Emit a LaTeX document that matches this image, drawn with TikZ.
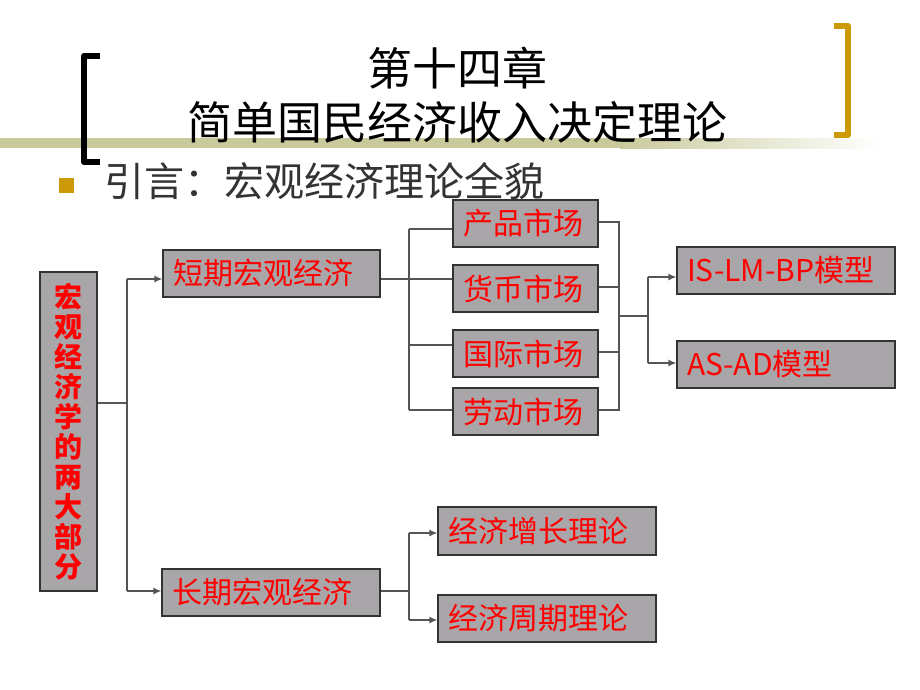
\documentclass[tikz,border=0pt]{standalone}
\usepackage{fontspec}
\setmainfont{Noto Sans CJK SC}
\usetikzlibrary{arrows.meta}

\definecolor{boxgray}{HTML}{A9A6A9}
\definecolor{gold}{HTML}{CC9A06}
\definecolor{olive}{HTML}{C9CA9C}
\definecolor{linegray}{HTML}{555555}
\definecolor{bullettext}{HTML}{333333}

\begin{document}
\begin{tikzpicture}[x=1pt,y=-1pt,
  box/.style={draw=black!80, line width=1.3pt, fill=boxgray, text=red,
    font=\fontsize{30}{34}\selectfont, inner xsep=10pt, inner ysep=0pt,
    align=left, minimum height=47pt},
  conn/.style={draw=linegray, line width=1.3pt},
  arr/.style={conn, -{Latex[length=8pt,width=7pt]}},
  titletext/.style={font=\fontsize{45}{50}\selectfont, text=black, inner sep=0pt}
]
\fill[white] (0,0) rectangle (920,690);
\useasboundingbox (0,0) rectangle (920,690);

% olive band
\fill[olive] (0,138) rectangle (620,148);
\shade[left color=olive, right color=white] (620,138) rectangle (880,148);

% brackets
\draw[line width=6pt, black, line join=round] (100,56) -- (84,56) -- (84,162) -- (100,162);
\draw[line width=6pt, gold, line join=round] (834,26) -- (848,26) -- (848,135) -- (834,135);

% title
\node[titletext] (t1) at (457,68) {第十四章};
\node[titletext] (t2) at (457,122) {简单国民经济收入决定理论};

% bullet
\fill[gold] (59,178) rectangle (74,193);
\node[anchor=west, inner sep=0pt, text=bullettext, font=\fontsize{40}{44}\selectfont] (intro) at (104,181) {引言：宏观经济理论全貌};

% boxes
\node[box, align=center, text width=37pt, minimum height=319pt, font=\bfseries\fontsize{28}{30}\selectfont] (main) at (68.5,431.5)
  {宏\\观\\经\\济\\学\\的\\两\\大\\部\\分};
\node[box, text width=197pt] (short) at (271.5,273.5) {短期宏观经济};
\node[box, text width=198pt] (long) at (271,592.5) {长期宏观经济};
\node[box, text width=125pt] (m1) at (525.5,223.5) {产品市场};
\node[box, text width=125pt] (m2) at (525.5,288.5) {货币市场};
\node[box, text width=125pt] (m3) at (525.5,353.5) {国际市场};
\node[box, text width=125pt] (m4) at (525.5,411.5) {劳动市场};
\node[box, text width=198pt] (is) at (786,270.5) {IS-LM-BP模型};
\node[box, text width=198pt] (asad) at (786,364.5) {AS-AD模型};
\node[box, text width=198pt, minimum height=48pt] (g1) at (547,531) {经济增长理论};
\node[box, text width=198pt] (g2) at (547,618.5) {经济周期理论};

% connectors: main -> short / long
\coordinate (ja) at (127,403);
\coordinate (jaT) at (127,279);
\coordinate (jaB) at (127,591);
\draw[conn] (main.east |- ja) -- (ja);
\draw[conn] (jaT) -- (jaB);
\draw[arr] (jaT) -- (short.west |- jaT);
\draw[arr] (jaB) -- (long.west |- jaB);

% short -> markets
\coordinate (jb) at (409,279);
\coordinate (jbT) at (409,229);
\coordinate (jb3) at (409,345);
\coordinate (jbB) at (409,410);
\draw[conn] (short.east |- jb) -- (m2.west |- jb);
\draw[conn] (jbT) -- (jbB);
\draw[conn] (jbT) -- (m1.west |- jbT);
\draw[conn] (jb3) -- (m3.west |- jb3);
\draw[conn] (jbB) -- (m4.west |- jbB);

% markets -> models
\coordinate (jc1) at (619,222);
\coordinate (jc2) at (619,287);
\coordinate (jc3) at (619,352);
\coordinate (jc4) at (619,410);
\coordinate (jcM) at (619,316);
\coordinate (jd) at (648,316);
\coordinate (jdT) at (648,277);
\coordinate (jdB) at (648,363);
\draw[conn] (m1.east |- jc1) -- (jc1) -- (jc4) -- (m4.east |- jc4);
\draw[conn] (m2.east |- jc2) -- (jc2);
\draw[conn] (m3.east |- jc3) -- (jc3);
\draw[conn] (jcM) -- (jd);
\draw[conn] (jdT) -- (jdB);
\draw[arr] (jdT) -- (is.west |- jdT);
\draw[arr] (jdB) -- (asad.west |- jdB);

% long -> theories
\coordinate (je) at (409,591);
\coordinate (jeT) at (409,533);
\coordinate (jeB) at (409,620);
\draw[conn] (long.east |- je) -- (je);
\draw[conn] (jeT) -- (jeB);
\draw[arr] (jeT) -- (g1.west |- jeT);
\draw[arr] (jeB) -- (g2.west |- jeB);
\end{tikzpicture}
\end{document}
